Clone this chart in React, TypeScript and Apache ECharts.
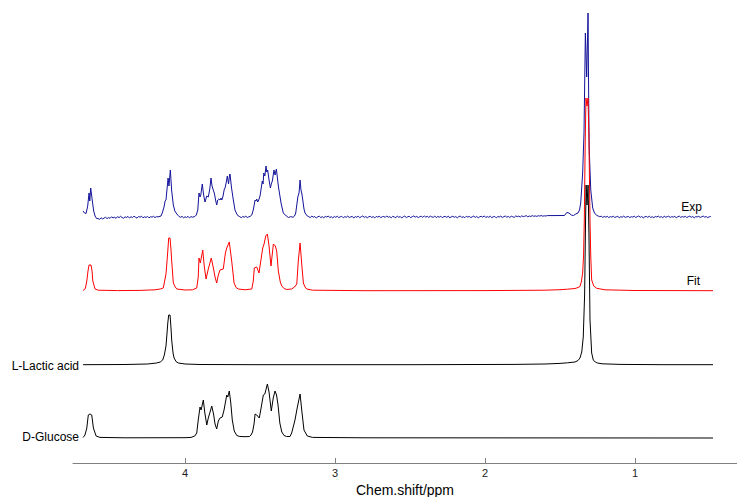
import React, { useEffect, useRef } from "react";
import * as echarts from "echarts";

type Pt = [number, number];

// Axis tick labels (ppm)
const xTicks = [1, 2, 3, 4];
const seriesNames = ["Exp", "Fit", "L-Lactic acid", "D-Glucose"];

// D-Glucose reference spectrum [ppm, intensity]
const glucose: Pt[] = [
  [4.68, 0.5], [4.667, 3], [4.655, 10], [4.645, 23], [4.633, 24], [4.622, 23], [4.611, 10], [4.593, 2], [4.567, 0.6],
  [4.4, 0.2], [4.0, 0.3], [3.96, 0.6], [3.935, 2], [3.922, 5], [3.912, 18], [3.9, 31], [3.893, 28], [3.878, 38],
  [3.868, 25], [3.855, 13], [3.845, 20], [3.833, 26], [3.822, 32], [3.81, 24], [3.8, 14], [3.789, 9], [3.778, 17],
  [3.767, 20], [3.752, 21], [3.74, 28], [3.722, 43], [3.715, 41], [3.705, 47], [3.695, 35], [3.685, 18], [3.672, 7],
  [3.655, 2.5], [3.635, 1.5], [3.6, 1.3], [3.57, 1.5], [3.56, 3], [3.55, 6], [3.54, 14], [3.533, 24], [3.522, 23],
  [3.505, 20], [3.493, 30], [3.478, 43], [3.468, 44], [3.451, 54], [3.44, 46], [3.425, 27], [3.412, 40], [3.4, 47],
  [3.39, 43], [3.38, 33], [3.368, 15], [3.355, 6], [3.34, 2.5], [3.323, 1.5], [3.3, 1.5], [3.289, 5], [3.267, 18],
  [3.251, 31], [3.233, 44], [3.222, 28], [3.207, 8], [3.185, 2], [3.15, 0.6], [2.8, 0.2], [0.48, 0],
];

// L-Lactic acid reference spectrum
const lactic: Pt[] = [
  [4.68, 0.3], [4.4, 0.5], [4.25, 1], [4.19, 2], [4.165, 3], [4.149, 5], [4.138, 10], [4.127, 19], [4.12, 32],
  [4.115, 42], [4.109, 50], [4.1, 50], [4.094, 38], [4.089, 25], [4.08, 12], [4.073, 7], [4.06, 3.5], [4.045, 2],
  [4.0, 1], [3.9, 0.5], [3.5, 0.3], [2.5, 0.3], [1.8, 0.6], [1.6, 1], [1.5, 1.6], [1.45, 2.2], [1.4, 3], [1.38, 4.5],
  [1.367, 7], [1.355, 13], [1.345, 28], [1.336, 70], [1.33, 140], [1.326, 180], [1.32, 160], [1.313, 180],
  [1.307, 130], [1.3, 45], [1.289, 12], [1.278, 5], [1.265, 3], [1.25, 2], [1.22, 1.2], [1.1, 0.6], [0.8, 0.3], [0.48, 0.3],
];

// Fitted spectrum
const fit: Pt[] = [
  [4.68, 0.7], [4.67, 1.5], [4.664, 3], [4.655, 10], [4.647, 20], [4.64, 26], [4.627, 26], [4.62, 20], [4.615, 10],
  [4.6, 2], [4.58, 0.8], [4.45, 0.4], [4.3, 0.6], [4.2, 1.2], [4.165, 2], [4.145, 3], [4.127, 17], [4.12, 30],
  [4.115, 40], [4.109, 53], [4.1, 53], [4.094, 42], [4.089, 30], [4.078, 8], [4.065, 4], [4.055, 2], [4.0, 1],
  [3.95, 1.2], [3.922, 3], [3.912, 14], [3.907, 33], [3.898, 28], [3.882, 41], [3.872, 25], [3.86, 12], [3.845, 22],
  [3.825, 33], [3.811, 23], [3.8, 14], [3.789, 8], [3.778, 16], [3.767, 21], [3.745, 22], [3.731, 38], [3.722, 43],
  [3.705, 49], [3.689, 30], [3.673, 8], [3.66, 3.5], [3.645, 2], [3.6, 1.2], [3.555, 2], [3.545, 10], [3.538, 23],
  [3.522, 24], [3.507, 18], [3.495, 30], [3.482, 43], [3.473, 47], [3.462, 55], [3.451, 57], [3.44, 45], [3.427, 25],
  [3.411, 47], [3.398, 45], [3.389, 40], [3.378, 20], [3.365, 9], [3.355, 5], [3.34, 2.5], [3.322, 1.5], [3.29, 2],
  [3.27, 4], [3.255, 7], [3.245, 30], [3.233, 48], [3.222, 27], [3.211, 8], [3.2, 4], [3.189, 2], [3.15, 0.8],
  [2.8, 0.3], [2.0, 0.4], [1.6, 0.8], [1.5, 1.3], [1.45, 1.8], [1.4, 2.5], [1.38, 3.5], [1.367, 4.5], [1.358, 9],
  [1.349, 18], [1.343, 35], [1.338, 71], [1.332, 150], [1.327, 193], [1.32, 185], [1.313, 193], [1.307, 150],
  [1.3, 71], [1.295, 35], [1.289, 11], [1.275, 5], [1.255, 2.7], [1.2, 1.2], [1.0, 0.5], [0.48, 0.3],
];

// Experimental spectrum: peak regions
const expPeaks: Pt[] = [
  // anomeric doublet
  [4.68, 6], [4.67, 4], [4.66, 3.5], [4.649, 11], [4.64, 24], [4.635, 16], [4.629, 29], [4.618, 16], [4.609, 6],
  [4.6, 1], [4.59, -1.5],
  // lactate quartet
  [4.16, 1], [4.152, 4], [4.14, 10], [4.133, 16], [4.127, 17], [4.113, 39], [4.107, 31], [4.098, 47], [4.089, 26],
  [4.078, 12], [4.068, 6], [4.055, 3], [4.04, 0.5],
  // glucose 3.93-3.64
  [3.935, 0.5], [3.925, 2], [3.915, 7], [3.907, 24], [3.9, 20], [3.895, 22], [3.885, 33], [3.876, 22], [3.867, 15],
  [3.855, 21], [3.845, 20], [3.835, 28], [3.827, 39], [3.82, 31], [3.812, 27], [3.805, 24], [3.795, 16], [3.789, 12],
  [3.782, 17], [3.775, 18], [3.767, 17], [3.76, 19], [3.755, 17], [3.748, 20], [3.738, 28], [3.733, 29], [3.725, 35],
  [3.718, 41], [3.71, 33], [3.703, 42], [3.7, 43], [3.693, 33], [3.689, 28], [3.678, 17], [3.667, 7], [3.655, 3], [3.645, 1],
  // glucose 3.57-3.27
  [3.567, 0.5], [3.555, 2], [3.545, 7], [3.533, 17], [3.527, 16], [3.522, 18], [3.516, 15], [3.511, 16], [3.5, 21],
  [3.493, 28], [3.485, 36], [3.48, 33], [3.475, 44], [3.468, 41], [3.46, 51], [3.455, 45], [3.449, 47], [3.44, 37],
  [3.431, 29], [3.425, 33], [3.418, 36], [3.407, 47], [3.4, 42], [3.391, 48], [3.385, 40], [3.378, 31], [3.36, 14],
  [3.345, 4], [3.325, 1], [3.31, -0.5], [3.295, 0.4], [3.28, -0.3], [3.27, 1],
  // glucose 3.23
  [3.262, 4], [3.255, 12], [3.248, 20], [3.24, 24], [3.233, 37], [3.227, 27], [3.222, 24], [3.215, 17], [3.207, 8],
  [3.2, 4], [3.185, 1],
  // 1.45 bump and lactate doublet
  [1.47, 1.5], [1.455, 4.5], [1.44, 4], [1.425, 2], [1.41, 1.5], [1.395, 3], [1.38, 4], [1.37, 7], [1.362, 14],
  [1.349, 44], [1.34, 84], [1.331, 184], [1.322, 140], [1.313, 204], [1.309, 120], [1.305, 67], [1.295, 27],
  [1.282, 9], [1.27, 4], [1.255, 1.5],
];

// Experimental spectrum: baseline noise, sampled every 0.01 ppm from the given start
const NOISE_STEP = 0.01;
const expNoiseAStart = 4.58;
const expNoiseA = [
  -1.5, -2.4, -0.8, -1.9, -1.1, -0.3, -1.6, -0.6, -1.3, 0.2, -0.9, -0.2, -1.4, 0.4, -0.7, 0.7, -0.5, -1.2, 0.1, -0.4,
  0.6, -1.0, 0.3, -0.6, 0.9, -0.3, -1.1, 0.5, -0.2, 0.8, -0.8, 0.2, -0.5, 0.6, -0.9, 0.3, -0.2, 0.7, -0.6, 0.4, 0.1,
];
const expNoiseBStart = 4.03;
const expNoiseB = [-0.3, 0.6, -0.8, 0.2, -0.5, 0.7, -0.9, 0.4, -0.2];
const expNoiseCStart = 3.635;
const expNoiseC = [0.3, -0.7, 0.5, -0.2, 0.8, -0.5, 0.2];
const expNoiseDStart = 3.175;
const expNoiseD = [
  0.4, -0.7, 0.9, -0.2, 0.5, -1.0, 0.2, 0.8, -0.5, 0.3, -0.8, 0.6, -0.1, 1.0, -0.6, 0.3, -0.9, 0.5, -0.3, 0.8,
  -0.6, 0.2, 0.7, -0.8, 0.4, -0.3, 0.9, -0.5, 0.1, 0.6, -1.0, 0.4, -0.2, 0.8, -0.7, 0.3, 1.0, -0.4, 0.5, -0.8,
  0.2, 0.7, -0.5, 0.4, -0.9, 0.6, -0.2, 0.9, -0.7, 0.3, 0.5, -0.4, 1.1, -0.3, 0.4, -0.8, 0.7, 0.0, -0.6, 0.8,
  -0.3, 0.5, -1.0, 0.3, 0.9, -0.5, 0.2, 0.7, -0.7, 0.4, 1.0, -0.2, 0.6, -0.6, 0.3, 0.8, -0.4, 1.1, -0.1, 0.7,
  -0.5, 0.9, 0.1, -0.3, 1.0, -0.6, 0.5, -0.2, 0.8, -0.7, 0.3, 0.6, -0.4, 0.9, -0.8, 0.2, 0.7, -0.3, 0.5, -0.9,
  0.4, 1.0, -0.5, 0.3, -0.7, 0.8, -0.1, 0.6, -0.6, 0.2, 0.9, -0.4, 0.5, -0.8, 0.3, 0.7, -0.2, 1.1, -0.5, 0.4,
  -0.3, 0.8, -0.6, 0.2, 0.6, -0.9, 0.5, 0.0, 0.9, -0.4, 0.3, 1.0, -0.2, 0.6, -0.5, 0.8, 0.2, -0.3, 1.1, 0.4,
  0.9, -0.1, 1.2, 0.3, 0.8, 1.3, 0.2, 1.0, 0.5, 1.4, 0.7, 1.1, 0.6, 1.3, 0.9, 1.5, 0.8, 1.2, 1.0, 1.4,
];
const expNoiseEStart = 1.245;
const expNoiseE = [
  1.0, 0.3, 0.8, -0.4, 0.5, -0.2, 0.7, -0.6, 0.4, -0.1, 0.8, -0.5, 0.2, 0.6, -0.7, 0.3, -0.2, 0.9, -0.4, 0.1,
  0.6, -0.6, 0.3, -0.1, 0.8, -0.5, 0.4, 1.0, -0.3, 0.5, -0.9, 0.2, 0.6, -0.4, 0.8, -0.5, 0.3, -0.7, 0.5, 0.0,
  0.9, -0.3, 0.4, -0.6, 0.7, -0.2, 0.3, 0.8, -0.5, 0.4, -0.1, 0.6, -0.7, 0.2, 0.9, -0.4, 0.5, -0.2, 0.7, -0.6,
  0.3, 0.8, -0.3, 0.5, -0.8, 0.4, 0.1, 0.7, -0.5, 0.3, 0.9, -0.2, 0.5, -0.6, 0.2, 0.6,
];

const noisePts = (start: number, vals: number[]): Pt[] =>
  vals.map((v, i) => [+(start - i * NOISE_STEP).toFixed(4), v] as Pt);

const expAll: Pt[] = [
  ...expPeaks,
  ...noisePts(expNoiseAStart, expNoiseA),
  ...noisePts(expNoiseBStart, expNoiseB),
  ...noisePts(expNoiseCStart, expNoiseC),
  ...noisePts(expNoiseDStart, expNoiseD),
  ...noisePts(expNoiseEStart, expNoiseE),
].sort((a, b) => b[0] - a[0]);

const FONT = "'Liberation Sans', Arial, Helvetica, sans-serif";

export default function App() {
  const ref = useRef<HTMLDivElement>(null);
  useEffect(() => {
    if (!ref.current) return;
    const chart = echarts.init(ref.current, undefined, { renderer: "svg" });
    const traces: { name: string; data: Pt[]; offset: number; color: string }[] = [
      { name: seriesNames[0], data: expAll, offset: 246, color: "#13139a" },
      { name: seriesNames[1], data: fit, offset: 172, color: "#ff0000" },
      { name: seriesNames[2], data: lactic, offset: 98, color: "#000000" },
      { name: seriesNames[3], data: glucose, offset: 25, color: "#000000" },
    ];
    chart.setOption({
      animation: false,
      grid: { left: 73, right: 0, top: 13, bottom: 34, outerBoundsMode: "none", containLabel: false },
      xAxis: {
        type: "value",
        inverse: true,
        min: 0.32,
        max: 4.747,
        name: "Chem.shift/ppm",
        nameLocation: "middle",
        nameGap: 15,
        nameTextStyle: { fontSize: 14, lineHeight: 15, color: "#000", fontFamily: FONT },
        axisLine: { show: true, onZero: false, lineStyle: { color: "#808080", width: 1 } },
        axisTick: { show: true, inside: true, length: 5, customValues: xTicks, lineStyle: { color: "#808080" } },
        axisLabel: { customValues: xTicks, margin: 4, fontSize: 11, color: "#222", fontFamily: FONT },
        splitLine: { show: false },
      },
      yAxis: { type: "value", min: 0, max: 450, show: false },
      series: traces.map((t) => ({
        name: t.name,
        type: "line",
        showSymbol: false,
        symbol: "none",
        lineStyle: { color: t.color, width: 1 },
        itemStyle: { color: t.color },
        data: t.data.map(([p, v]) => [p, v + t.offset]),
      })),
      graphic: [
        { type: "text", x: 702, y: 207, style: { text: seriesNames[0], fill: "#000", fontSize: 12, fontFamily: FONT, align: "right", verticalAlign: "middle" } },
        { type: "text", x: 700, y: 281, style: { text: seriesNames[1], fill: "#000", fontSize: 12, fontFamily: FONT, align: "right", verticalAlign: "middle" } },
        { type: "text", x: 79, y: 366, style: { text: seriesNames[2], fill: "#000", fontSize: 12, fontFamily: FONT, align: "right", verticalAlign: "middle" } },
        { type: "text", x: 79, y: 437, style: { text: seriesNames[3], fill: "#000", fontSize: 12, fontFamily: FONT, align: "right", verticalAlign: "middle" } },
      ],
    });
    return () => chart.dispose();
  }, []);
  return <div ref={ref} style={{ position: "absolute", left: 0, top: 0, width: 737, height: 497 }} />;
}
